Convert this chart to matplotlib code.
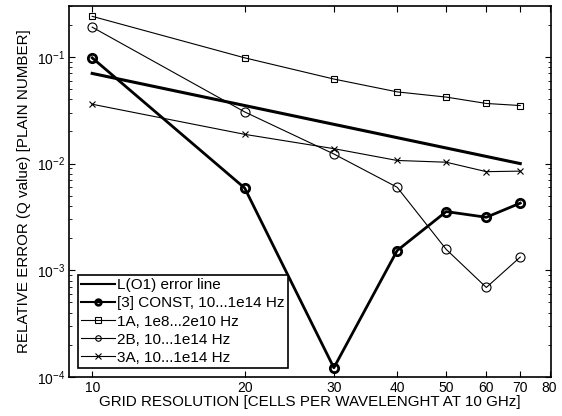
import matplotlib
matplotlib.use("Agg")
import matplotlib.pyplot as plt
from matplotlib.ticker import FixedLocator, FixedFormatter, NullLocator, LogLocator

plt.rcParams['font.family'] = ['Liberation Sans', 'DejaVu Sans']
plt.rcParams['mathtext.fontset'] = 'custom'
plt.rcParams['mathtext.rm'] = 'Liberation Sans'

x = [10, 20, 30, 40, 50, 60, 70]
line_x = [10, 70]
line_o1 = [0.07, 0.01]
const3 = [0.098, 0.0059, 0.000122, 0.00153, 0.00355, 0.00314, 0.00426]
s1A = [0.24, 0.098, 0.062, 0.047, 0.042, 0.0366, 0.035]
s2B = [0.19, 0.0305, 0.0123, 0.006, 0.00157, 0.00069, 0.00133]
s3A = [0.036, 0.0188, 0.0138, 0.0107, 0.0103, 0.0084, 0.0085]
xticks = [10, 20, 30, 40, 50, 60, 70, 80]

fig = plt.figure(figsize=(5.62, 4.16), dpi=100)
ax = fig.add_axes([0.1228, 0.0938, 0.8576, 0.8918])

ax.plot(line_x, line_o1, color='k', lw=2.2, label='L(O1) error line')
ax.plot(x, const3, color='k', lw=2.0, marker='o', ms=6, mfc='none', mew=2.0,
        label='[3] CONST, 10...1e14 Hz')
ax.plot(x, s1A, color='k', lw=0.8, marker='s', ms=5, mfc='none', mew=0.8,
        label='1A, 1e8...2e10 Hz')
ax.plot(x, s2B, color='k', lw=0.8, marker='o', ms=6.5, mfc='none', mew=0.8,
        label='2B, 10...1e14 Hz')
ax.plot(x, s3A, color='k', lw=0.8, marker='x', ms=4.5, mew=0.8,
        label='3A, 10...1e14 Hz')

ax.set_xscale('log')
ax.set_yscale('log')
ax.set_xlim(9, 80.5)
ax.set_ylim(1e-4, 0.3)

ax.xaxis.set_major_locator(FixedLocator(xticks))
ax.xaxis.set_major_formatter(FixedFormatter([str(v) for v in xticks]))
ax.xaxis.set_minor_locator(NullLocator())
ax.yaxis.set_major_locator(LogLocator(base=10, numticks=10))
ax.yaxis.set_minor_locator(LogLocator(base=10, subs=range(2, 10), numticks=20))

ax.tick_params(which='both', direction='in', top=True, right=True, labelsize=10)
ax.tick_params(axis='x', pad=3)
ax.tick_params(axis='y', pad=3)
ax.tick_params(which='major', length=4, width=0.8)
ax.tick_params(which='minor', length=2.5, width=0.6)
for s in ax.spines.values():
    s.set_linewidth(1.2)

ax.set_xlabel('GRID RESOLUTION [CELLS PER WAVELENGHT AT 10 GHz]', fontsize=10.9, labelpad=0)
ax.set_ylabel('RELATIVE ERROR (Q value) [PLAIN NUMBER]', fontsize=10.9, labelpad=4)

leg = ax.legend(loc='lower left', numpoints=1, fontsize=11, fancybox=False,
                framealpha=1, edgecolor='k', borderpad=0.2, labelspacing=0.27,
                handlelength=2.2, handletextpad=0.15, borderaxespad=0.6)
leg.get_frame().set_linewidth(1.2)
for h in leg.legend_handles:
    h.set_markersize(4)
    h.set_linewidth(min(h.get_linewidth(), 1.5))

fig.savefig('out.png', dpi=100)
